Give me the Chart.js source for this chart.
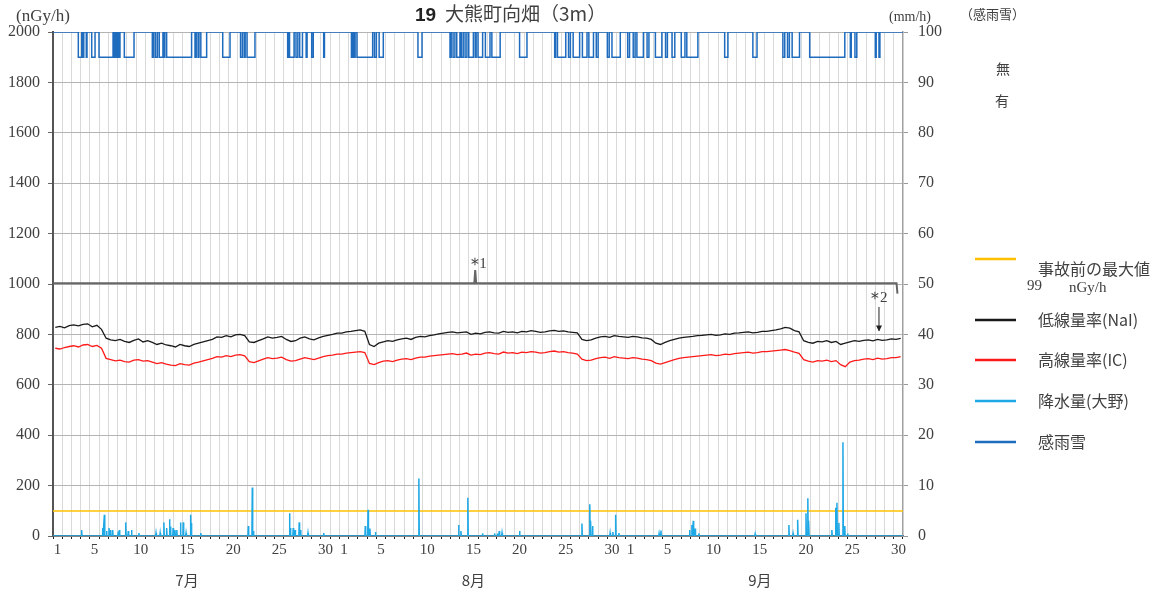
<!DOCTYPE html>
<html lang="ja">
<head>
<meta charset="utf-8">
<title>19 大熊町向畑 (3m)</title>
<script src="https://cdn.jsdelivr.net/npm/chart.js@4.4.1/dist/chart.umd.min.js"></script>
<style>
  html, body { margin: 0; padding: 0; background: #fff; }
</style>
</head>
<body>
<canvas id="doseChart" width="1154" height="595"></canvas>
<script>
// 月と日付の目盛り
const monthNames = ['7月', '8月', '9月'];
const monthDays = [31, 31, 30];
const labelDays = [1, 5, 10, 15, 20, 25, 30];

// 低線量率(NaI) nGy/h  12時間ごと (7/1 ～ 9/30)
const naiValues = [
  828, 832, 826, 835, 838, 834, 840, 842, 830, 836, 820, 785, 778, 775, 780, 772, 768, 776, 782, 770,
  775, 768, 760, 765, 758, 755, 750, 760, 755, 752, 760, 765, 770, 775, 780, 790, 788, 795, 790, 798,
  800, 795, 770, 768, 775, 782, 790, 785, 788, 792, 780, 772, 775, 785, 790, 782, 778, 786, 792, 796,
  800, 805,
  805, 810, 812, 815, 818, 812, 760, 752, 765, 770, 775, 772, 778, 782, 785, 780, 788, 792, 790, 795,
  798, 802, 805, 808, 810, 806, 808, 810, 800, 805, 802, 808, 810, 806, 805, 812, 808, 810, 806, 812,
  810, 815, 812, 808, 810, 814, 816, 812, 814, 810, 808, 806, 780, 775, 778, 785, 790, 792, 788, 795,
  792, 790,
  788, 792, 790, 786, 785, 780, 765, 760, 768, 775, 780, 785, 788, 790, 792, 795, 796, 798, 800, 796,
  798, 802, 800, 805, 806, 808, 810, 806, 808, 812, 812, 815, 818, 822, 828, 825, 815, 810, 775, 768,
  765, 772, 770, 775, 768, 772, 760, 765, 770, 775, 772, 776, 778, 774, 780, 776, 778, 782, 780, 784
];

// 高線量率(IC) nGy/h  12時間ごと
const icValues = [
  745, 742, 748, 752, 755, 750, 758, 760, 752, 756, 745, 705, 700, 695, 698, 692, 690, 698, 700, 694,
  696, 690, 684, 688, 682, 678, 676, 684, 680, 678, 686, 690, 695, 700, 705, 712, 710, 716, 712, 718,
  720, 715, 692, 688, 695, 702, 708, 704, 706, 710, 700, 694, 696, 702, 708, 704, 700, 706, 712, 716,
  718, 722,
  722, 726, 728, 730, 732, 728, 685, 680, 688, 694, 696, 692, 698, 702, 704, 700, 706, 710, 710, 714,
  716, 718, 720, 722, 724, 720, 722, 726, 718, 722, 720, 726, 728, 724, 722, 730, 726, 728, 724, 730,
  728, 732, 730, 726, 728, 732, 734, 730, 732, 728, 726, 722, 702, 696, 698, 704, 708, 710, 705, 712,
  708, 706,
  704, 708, 706, 702, 700, 696, 686, 682, 688, 694, 700, 705, 708, 710, 712, 714, 716, 718, 720, 716,
  718, 722, 720, 724, 726, 728, 730, 726, 728, 732, 732, 734, 736, 738, 740, 736, 730, 725, 700, 694,
  690, 696, 694, 698, 692, 696, 680, 672, 690, 696, 698, 702, 704, 700, 706, 702, 704, 708, 708, 712
];

// 降水量(大野) mm/h  経過日数(7/1 0時 = 0) と値
const rainTimes = [
  3.1, 5.38, 5.56, 5.8, 6.06, 6.24, 6.46, 7.07, 7.18, 7.87, 8.15, 8.5, 9.3, 11.15, 11.6, 12.0, 12.3,
  12.6, 12.7, 13.0, 13.2, 13.4, 13.8, 14.1, 14.4, 14.9, 15.0, 16.0, 21.14, 21.57, 21.7, 25.6, 25.7,
  26.0, 26.2, 26.65, 26.8, 27.6, 29.3, 33.8, 34.1, 34.3, 34.9, 39.6, 43.9, 44.15, 44.9, 46.5, 47.8,
  48.1, 48.3, 48.6, 50.5, 57.25, 58.1, 58.2, 58.4, 60.3, 60.6, 60.9, 61.25, 65.6, 65.8, 68.9, 69.15,
  69.3, 69.5, 69.9, 76.0, 79.65, 80.1, 80.6, 81.5, 81.7, 81.8, 84.3, 84.7, 84.85, 85.06, 85.5, 85.7, 86.0
];
const rainValues = [
  1.2, 1.6, 4.2, 1.0, 1.6, 1.2, 1.2, 0.9, 1.2, 2.7, 1.0, 1.2, 0.6, 0.6, 0.6, 2.7, 1.6,
  3.3, 1.9, 1.6, 1.2, 1.2, 2.7, 2.7, 0.6, 4.2, 2.6, 0.6, 2.0, 9.6, 1.0, 4.5, 1.6,
  1.6, 1.2, 2.7, 1.2, 0.6, 0.6, 2.0, 5.2, 1.5, 0.8, 11.4, 2.2, 1.0, 7.6, 0.5, 0.5,
  0.5, 1.0, 0.6, 1.0, 2.5, 6.3, 3.0, 2.0, 0.6, 0.8, 4.2, 0.6, 0.5, 1.1, 1.2, 2.2,
  3.0, 1.5, 0.5, 0.4, 2.2, 0.5, 3.2, 4.5, 7.5, 3.0, 1.2, 5.6, 6.6, 2.6, 18.6, 2.0, 0.5
];

// 感雨雪「有」の期間 (開始, 終了) 経過日数
const senseStart = [
  2.74, 3.25, 3.6, 4.19, 4.98, 6.6, 6.85, 7.15, 7.72, 10.75, 11.1, 11.5, 12.0, 12.3, 15.37, 15.7,
  16.0, 18.37, 20.3, 20.7, 21.0, 25.4, 25.6, 26.3, 26.7, 27.4, 28.0, 29.3, 32.3, 32.55, 32.9, 34.8,
  35.3, 39.5, 42.97, 43.3, 43.7, 44.2, 44.6, 45.0, 45.7, 46.0, 46.8, 47.5, 50.5, 54.3, 54.6, 55.8,
  56.3, 57.3, 58.0, 58.8, 60.0, 60.5, 62.2, 62.8, 63.2, 64.3, 65.2, 66.3, 67.0, 68.0, 68.6, 72.7,
  75.75, 79.0, 79.5, 80.0, 81.9, 86.3, 86.8, 89.0, 89.4
];
const senseEnd = [
  3.11, 3.33, 3.68, 4.55, 6.5, 6.7, 7.0, 7.25, 8.77, 10.9, 11.3, 11.9, 12.1, 15.0, 15.5, 15.8,
  16.63, 19.16, 20.5, 20.8, 21.86, 25.5, 26.1, 26.5, 27.0, 27.5, 28.17, 29.38, 32.4, 32.7, 34.6, 35.0,
  35.75, 39.94, 43.1, 43.5, 44.05, 44.4, 44.8, 45.5, 45.8, 46.5, 47.3, 48.4, 51.3, 54.4, 55.5, 56.0,
  57.0, 57.8, 58.5, 59.0, 60.2, 61.4, 62.4, 63.0, 63.9, 64.5, 65.9, 66.5, 67.3, 68.4, 69.8, 73.05,
  76.2, 79.2, 79.7, 80.8, 85.7, 86.4, 87.0, 89.1, 89.5
];

// 1000 nGy/h 付近の灰色線 (＊1 の突起と末尾の下がり)
const upperTimes = [0, 45.6, 45.7, 45.8, 91.3, 91.4];
const upperValues = [1003, 1003, 1055, 1003, 1003, 962];

// 事故前の最大値
const preAccidentMax = 99;

// ---- ここからデータの組み立て ----
const dayLabels = [];
const monthLabels = [];
monthDays.forEach((n, m) => {
  for (let d = 1; d <= n; d++) {
    dayLabels.push(labelDays.includes(d) ? String(d) : '');
    monthLabels.push(d === 15 ? monthNames[m] : '');
  }
});
const totalDays = dayLabels.length;

const naiPoints = naiValues.map((v, i) => ({ x: i * 0.5 + 0.25, y: v }));
const icPoints = icValues.map((v, i) => ({ x: i * 0.5 + 0.25, y: v }));

// 降水は1時間値、雨のない時間は0
const hour = 1 / 24;
const rainPoints = [{ x: 0, y: 0 }];
rainTimes.forEach((t, i) => {
  const prev = i > 0 ? rainTimes[i - 1] : -1;
  const next = i < rainTimes.length - 1 ? rainTimes[i + 1] : 999;
  if (t - prev > 2 * hour) rainPoints.push({ x: t - hour, y: 0 });
  rainPoints.push({ x: t, y: rainValues[i] });
  if (next - t > 2 * hour) rainPoints.push({ x: t + hour, y: 0 });
});
rainPoints.push({ x: totalDays, y: 0 });

// 感雨雪: 無 = 100, 有 = 95 (右軸)
const sensePoints = [{ x: 0, y: 100 }];
senseStart.forEach((s, i) => {
  sensePoints.push({ x: s, y: 95 });
  sensePoints.push({ x: senseEnd[i], y: 100 });
});
sensePoints.push({ x: totalDays, y: 100 });

const upperPoints = upperTimes.map((t, i) => ({ x: t, y: upperValues[i] }));

const numFont = '"Liberation Serif", "DejaVu Serif", serif';
const jpFont = '"Noto Sans CJK JP", "Noto Sans", sans-serif';
const textColor = '#404040';

// タイトル・単位・凡例・注記
const textPlugin = {
  id: 'chartTexts',
  afterDraw(chart) {
    const ctx = chart.ctx;
    const xs = chart.scales.xt;
    const ys = chart.scales.y;
    ctx.save();
    ctx.fillStyle = textColor;
    ctx.textBaseline = 'alphabetic';

    // タイトル
    ctx.font = 'bold 19px "Liberation Sans", sans-serif';
    ctx.fillStyle = '#222';
    ctx.fillText('19', 415, 21);
    ctx.font = '19px ' + jpFont;
    ctx.fillStyle = textColor;
    ctx.fillText('大熊町向畑（3m）', 445, 21);

    // 単位
    ctx.font = '17px ' + numFont;
    ctx.fillText('(nGy/h)', 16, 21);
    ctx.font = '14px ' + numFont;
    ctx.fillText('(mm/h)', 889, 21);
    ctx.font = '13px ' + jpFont;
    ctx.fillText('（感雨雪）', 960, 19);
    ctx.font = '14px ' + jpFont;
    ctx.fillText('無', 996, 74);
    ctx.fillText('有', 995, 106);

    // ＊1
    const x1 = xs.getPixelForValue(45.7);
    ctx.font = '18px ' + numFont;
    ctx.fillText('＊', x1 - 9, 270);
    ctx.font = '15px ' + numFont;
    ctx.fillText('1', x1 + 4, 268);

    // ＊2 と矢印
    const x2 = xs.getPixelForValue(89.4);
    ctx.font = '18px ' + numFont;
    ctx.fillText('＊', x2 - 13, 304);
    ctx.font = '15px ' + numFont;
    ctx.fillText('2', x2 + 1, 302);
    const yArrow = ys.getPixelForValue(815);
    ctx.strokeStyle = '#222';
    ctx.lineWidth = 1;
    ctx.beginPath();
    ctx.moveTo(x2, 307);
    ctx.lineTo(x2, yArrow);
    ctx.stroke();
    ctx.fillStyle = '#222';
    ctx.beginPath();
    ctx.moveTo(x2 - 3, yArrow - 5);
    ctx.lineTo(x2 + 3, yArrow - 5);
    ctx.lineTo(x2, yArrow + 1);
    ctx.closePath();
    ctx.fill();

    // 凡例
    const items = [
      { c: '#ffc000', y: 259 },
      { c: '#1a1a1a', y: 320, t: '低線量率(NaI)' },
      { c: '#ff1a1a', y: 360, t: '高線量率(IC)' },
      { c: '#1fa8e6', y: 401, t: '降水量(大野)' },
      { c: '#1f6cbf', y: 442, t: '感雨雪' }
    ];
    ctx.lineWidth = 2.5;
    items.forEach(it => {
      ctx.strokeStyle = it.c;
      ctx.beginPath();
      ctx.moveTo(975, it.y);
      ctx.lineTo(1016, it.y);
      ctx.stroke();
    });
    ctx.fillStyle = textColor;
    ctx.font = '16px ' + jpFont;
    ctx.fillText('事故前の最大値', 1038, 275);
    items.slice(1).forEach(it => ctx.fillText(it.t, 1038, it.y + 6));
    ctx.font = '15px ' + numFont;
    ctx.fillText(String(preAccidentMax), 1027, 290);
    ctx.fillText('nGy/h', 1069, 292);
    ctx.restore();
  }
};

const ctx = document.getElementById('doseChart').getContext('2d');
const chart = new Chart(ctx, {
  type: 'line',
  data: {
    labels: dayLabels,
    datasets: [
      {
        label: '降水量(大野)', data: rainPoints, yAxisID: 'y1', xAxisID: 'xt',
        borderColor: '#1fa8e6', borderWidth: 1.5, order: 1
      },
      {
        label: '低線量率(NaI)', data: naiPoints, yAxisID: 'y', xAxisID: 'xt',
        borderColor: '#1a1a1a', borderWidth: 1.3, order: 2
      },
      {
        label: '高線量率(IC)', data: icPoints, yAxisID: 'y', xAxisID: 'xt',
        borderColor: '#ff1a1a', borderWidth: 1.3, order: 3
      },
      {
        label: '感雨雪', data: sensePoints, yAxisID: 'y1', xAxisID: 'xt',
        borderColor: '#1f6cbf', borderWidth: 1.5, stepped: true, order: 4
      },
      {
        label: '事故前の最大値', yAxisID: 'y', xAxisID: 'xt',
        data: [{ x: 0, y: preAccidentMax }, { x: totalDays, y: preAccidentMax }],
        borderColor: '#ffc000', borderWidth: 1.5, order: 5
      },
      {
        label: '上限', data: upperPoints, yAxisID: 'y', xAxisID: 'xt',
        borderColor: '#666', borderWidth: 2, order: 6
      }
    ]
  },
  options: {
    responsive: false,
    animation: false,
    devicePixelRatio: 1,
    events: [],
    layout: { padding: { top: 32, left: 0, right: 0, bottom: 0 } },
    elements: { point: { radius: 0 }, line: { tension: 0 } },
    plugins: { legend: { display: false }, title: { display: false }, tooltip: { enabled: false } },
    scales: {
      xt: { type: 'linear', display: false, min: 0, max: totalDays },
      x: {
        type: 'category', position: 'bottom', weight: 0, offset: true,
        grid: { offset: true, color: '#d9d9d9', tickColor: '#222', tickLength: 3 },
        border: { color: '#555', width: 1.5 },
        ticks: {
          autoSkip: false, maxRotation: 0, padding: 2, color: textColor,
          font: { family: numFont, size: 15 }
        },
        afterFit(s) { s.height = 22; }
      },
      xm: {
        type: 'category', position: 'bottom', weight: 1, offset: true, labels: monthLabels,
        grid: { display: false, drawTicks: false }, border: { display: false },
        ticks: {
          autoSkip: false, maxRotation: 0, padding: 13, color: textColor,
          font: { family: jpFont, size: 15 }
        },
        afterFit(s) { s.height = 37; }
      },
      y: {
        position: 'left', min: 0, max: 2000,
        grid: { color: '#b4b4b4', tickColor: '#666', tickLength: 5 },
        border: { color: '#555', width: 2 },
        ticks: {
          stepSize: 200, padding: 8, color: textColor, font: { family: numFont, size: 16 },
          callback: v => String(v)
        },
        afterFit(s) { s.width = 53; }
      },
      y1: {
        position: 'right', min: 0, max: 100,
        grid: { drawOnChartArea: false, tickColor: '#999', tickLength: 5 },
        border: { color: '#a0a0a0', width: 1.5 },
        ticks: {
          stepSize: 10, padding: 10, color: textColor, font: { family: numFont, size: 16 },
          callback: v => String(v)
        },
        afterFit(s) { s.width = 251; }
      }
    }
  },
  plugins: [textPlugin]
});
</script>
</body>
</html>
